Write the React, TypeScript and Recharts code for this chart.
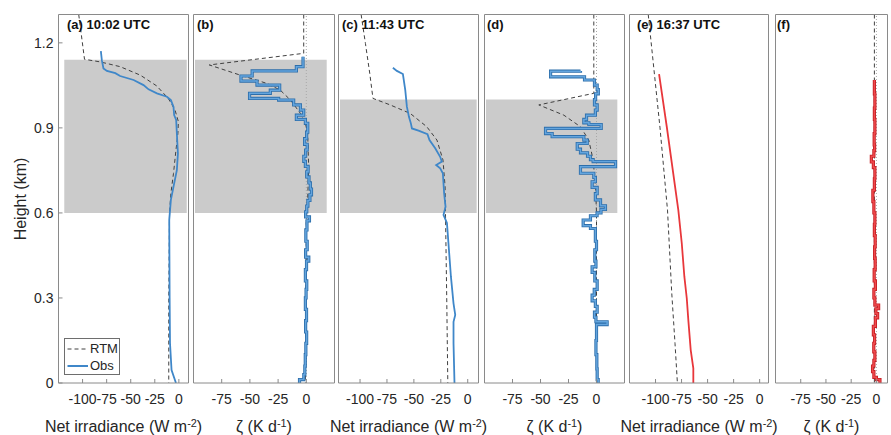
import React from 'react';
import { LineChart, Line, XAxis, YAxis, ReferenceArea, ReferenceLine, Legend } from 'recharts';

const W = 891;
const H = 435;
const PLOT_TOP = 14.5;
const PLOT_BOTTOM = 383;
const FONT = '"Liberation Sans", Arial, Helvetica, sans-serif';
const FRAME = '#8a8a8a';
const TEXT = '#262626';
const CLOUD = '#cbcbcb';
const RTM_COLOR = '#404040';

// axes
const heightTicks = [0, 0.3, 0.6, 0.9, 1.2];
const irrTicks = [-100, -75, -50, -25, 0];
const zetaTicks = [-75, -50, -25, 0];

// cloud layers [base, top] in km
const cloudMorning = [0.6, 1.14];
const cloudNoon = [0.6, 1.0];

type Pt = { h: number; v: number };

// (a) 10:02 UTC net irradiance
const rtmA: Pt[] = [
  { h: 1.3, v: -104 }, { h: 1.142, v: -98 }, { h: 1.133, v: -82 }, { h: 1.116, v: -61 },
  { h: 1.086, v: -40 }, { h: 1.048, v: -23 }, { h: 1.004, v: -11 }, { h: 0.963, v: -4 },
  { h: 0.922, v: -0.5 }, { h: 0.881, v: -1 }, { h: 0.822, v: -3 }, { h: 0.739, v: -5.6 },
  { h: 0.669, v: -8.3 }, { h: 0.6, v: -9.7 }, { h: 0.3, v: -10.5 }, { h: 0, v: -10.5 },
];
const obsA: Pt[] = [
  { h: 1.171, v: -81 }, { h: 1.139, v: -80 }, { h: 1.11, v: -78.3 }, { h: 1.101, v: -74.7 },
  { h: 1.093, v: -66 }, { h: 1.083, v: -61 }, { h: 1.069, v: -47 }, { h: 1.051, v: -36.7 },
  { h: 1.036, v: -31.5 }, { h: 1.022, v: -22.8 }, { h: 1.01, v: -12.4 }, { h: 0.998, v: -8.3 },
  { h: 0.975, v: -5.6 }, { h: 0.945, v: -4.9 }, { h: 0.928, v: -2.8 }, { h: 0.881, v: -2.1 },
  { h: 0.81, v: -1 }, { h: 0.751, v: -2.1 }, { h: 0.692, v: -5.6 }, { h: 0.646, v: -8.3 },
  { h: 0.575, v: -10 }, { h: 0.3, v: -9.6 }, { h: 0.14, v: -9.2 }, { h: 0.046, v: -7.6 },
  { h: 0.01, v: -4 }, { h: 0, v: -3 },
];

// (b) heating rate
const rtmB: Pt[] = [
  { h: 1.3, v: -2.3 }, { h: 1.163, v: -2.3 }, { h: 1.122, v: -86 }, { h: 1.086, v: -58.5 },
  { h: 1.057, v: -35 }, { h: 1.033, v: -23 }, { h: 0.998, v: -14 }, { h: 0.951, v: -5.2 },
  { h: 0.916, v: -0.8 }, { h: 0.881, v: 1.2 }, { h: 0.763, v: 2.1 }, { h: 0.646, v: 1.2 },
  { h: 0.575, v: 0 }, { h: 0.3, v: -0.3 }, { h: 0, v: -0.8 },
];
const obsB: Pt[] = [
  { h: 1.151, v: -2.9 }, { h: 1.116, v: -8.8 }, { h: 1.101, v: -48 }, { h: 1.083, v: -57.9 },
  { h: 1.065, v: -43.7 }, { h: 1.051, v: -23.6 }, { h: 1.033, v: -31.9 }, { h: 1.022, v: -50.3 },
  { h: 1.004, v: -24.5 }, { h: 0.998, v: -11.2 }, { h: 0.981, v: -5.2 }, { h: 0.963, v: -2.3 },
  { h: 0.945, v: -8.8 }, { h: 0.93, v: -0.8 }, { h: 0.916, v: 1.3 }, { h: 0.885, v: 0.3 },
  { h: 0.862, v: -1.5 }, { h: 0.842, v: 0.8 }, { h: 0.822, v: -0.6 }, { h: 0.8, v: -2.2 },
  { h: 0.782, v: -0.8 }, { h: 0.764, v: 1.6 }, { h: 0.745, v: 0.4 }, { h: 0.727, v: 2.4 },
  { h: 0.706, v: 3.6 }, { h: 0.684, v: 4.6 }, { h: 0.664, v: 3.2 }, { h: 0.644, v: 1.4 },
  { h: 0.624, v: 0.4 }, { h: 0.604, v: -0.6 }, { h: 0.586, v: 2.8 }, { h: 0.572, v: 0.6 },
  { h: 0.54, v: -0.4 }, { h: 0.5, v: 0.8 }, { h: 0.47, v: -0.6 }, { h: 0.444, v: 2.2 },
  { h: 0.43, v: 0.2 }, { h: 0.4, v: -0.8 }, { h: 0.36, v: 0.4 }, { h: 0.33, v: -0.2 },
  { h: 0.3, v: -0.8 }, { h: 0.26, v: 0.2 }, { h: 0.22, v: -0.6 }, { h: 0.18, v: 0.3 },
  { h: 0.14, v: -0.4 }, { h: 0.1, v: -0.9 }, { h: 0.06, v: -1.3 }, { h: 0.03, v: -2.2 },
  { h: 0.012, v: -6 }, { h: 0, v: -6 },
];

// (c) 11:43 UTC net irradiance
const rtmC: Pt[] = [
  { h: 1.3, v: -99 }, { h: 1.198, v: -95 }, { h: 1.093, v: -91 }, { h: 1.004, v: -88 },
  { h: 0.981, v: -72 }, { h: 0.951, v: -53.4 }, { h: 0.904, v: -38 }, { h: 0.857, v: -28.6 },
  { h: 0.787, v: -23 }, { h: 0.692, v: -21 }, { h: 0.586, v: -20.6 }, { h: 0.3, v: -19.5 },
  { h: 0, v: -18.5 },
];
const obsC: Pt[] = [
  { h: 1.112, v: -69.5 }, { h: 1.101, v: -65.8 }, { h: 1.09, v: -60.2 }, { h: 1.033, v: -58 },
  { h: 0.975, v: -56.5 }, { h: 0.939, v: -54.6 }, { h: 0.916, v: -52.8 }, { h: 0.898, v: -51.8 },
  { h: 0.89, v: -45.7 }, { h: 0.878, v: -37.4 }, { h: 0.857, v: -35.5 }, { h: 0.828, v: -30.2 },
  { h: 0.798, v: -25.6 }, { h: 0.781, v: -24 }, { h: 0.769, v: -29.3 }, { h: 0.757, v: -25.6 },
  { h: 0.74, v: -23.1 }, { h: 0.669, v: -21.9 }, { h: 0.622, v: -20.6 }, { h: 0.593, v: -22.5 },
  { h: 0.565, v: -19.3 }, { h: 0.493, v: -17.9 }, { h: 0.375, v: -15.6 }, { h: 0.281, v: -13.2 },
  { h: 0.24, v: -11.6 }, { h: 0.216, v: -13.2 }, { h: 0.14, v: -13.2 }, { h: 0, v: -12.3 },
];

// (d) heating rate
const rtmD: Pt[] = [
  { h: 1.3, v: -2.4 }, { h: 1.022, v: -2.4 }, { h: 0.981, v: -51.5 }, { h: 0.945, v: -29.2 },
  { h: 0.904, v: -14.3 }, { h: 0.857, v: -6.9 }, { h: 0.787, v: -3 }, { h: 0.692, v: -0.9 },
  { h: 0.6, v: 0 }, { h: 0, v: 0 },
];
const obsD: Pt[] = [
  { h: 1.101, v: -14.3 }, { h: 1.1, v: -41 }, { h: 1.08, v: -10.7 }, { h: 1.069, v: -1.8 },
  { h: 1.051, v: 0.6 }, { h: 1.035, v: 1.6 }, { h: 1.02, v: -0.8 }, { h: 1.0, v: -1.8 },
  { h: 0.981, v: 0.6 }, { h: 0.963, v: -1 }, { h: 0.945, v: -8.9 }, { h: 0.93, v: -11.3 },
  { h: 0.918, v: -6.8 }, { h: 0.912, v: 4.2 }, { h: 0.898, v: -45.5 }, { h: 0.88, v: -39.6 },
  { h: 0.869, v: -11.3 }, { h: 0.857, v: -8.3 }, { h: 0.845, v: -17.2 }, { h: 0.825, v: -14.3 },
  { h: 0.812, v: -8 }, { h: 0.8, v: -5.4 }, { h: 0.788, v: -3 }, { h: 0.781, v: 17 },
  { h: 0.763, v: -14.3 }, { h: 0.74, v: -2.4 }, { h: 0.725, v: -1 }, { h: 0.71, v: -3.9 },
  { h: 0.69, v: 0.6 }, { h: 0.668, v: -1 }, { h: 0.646, v: 3.6 }, { h: 0.625, v: 8 },
  { h: 0.612, v: 4 }, { h: 0.6, v: 0.5 }, { h: 0.59, v: -5.4 }, { h: 0.575, v: -11.9 },
  { h: 0.555, v: -5.4 }, { h: 0.545, v: -1 }, { h: 0.5, v: 0 }, { h: 0.47, v: -1.5 },
  { h: 0.43, v: -0.5 }, { h: 0.41, v: -3.9 }, { h: 0.39, v: -1.5 }, { h: 0.36, v: 0.6 },
  { h: 0.33, v: -2 }, { h: 0.31, v: -3.9 }, { h: 0.29, v: -1 }, { h: 0.27, v: 0.6 },
  { h: 0.25, v: -1.8 }, { h: 0.232, v: -0.5 }, { h: 0.216, v: 9.5 }, { h: 0.206, v: 0 },
  { h: 0.15, v: -0.5 }, { h: 0.1, v: 0.3 }, { h: 0.05, v: 0.6 }, { h: 0.012, v: 1.5 },
  { h: 0, v: 1.5 },
];

// (e) 16:37 UTC net irradiance
const rtmE: Pt[] = [
  { h: 1.3, v: -107 }, { h: 0.9, v: -95.7 }, { h: 0.61, v: -88.5 }, { h: 0.316, v: -84.4 },
  { h: 0.14, v: -81.3 }, { h: 0, v: -79 },
];
const obsE: Pt[] = [
  { h: 1.09, v: -96.6 }, { h: 0.904, v: -89.2 }, { h: 0.61, v: -78.1 }, { h: 0.493, v: -74.8 },
  { h: 0.375, v: -72.3 }, { h: 0.299, v: -70 }, { h: 0.222, v: -68.5 }, { h: 0.116, v: -66.2 },
  { h: 0.052, v: -63.7 }, { h: 0, v: -63.7 },
];

// (f) heating rate
const rtmF: Pt[] = [{ h: 1.3, v: -2 }, { h: 0, v: -2 }];
const obsF: Pt[] = [
  { h: 1.069, v: -2 }, { h: 1.02, v: -1.5 }, { h: 0.97, v: -2 }, { h: 0.93, v: -1.5 },
  { h: 0.88, v: -2.2 }, { h: 0.84, v: -1.8 }, { h: 0.82, v: -2.5 }, { h: 0.8, v: -5 },
  { h: 0.78, v: -3 }, { h: 0.76, v: -1.5 }, { h: 0.72, v: -2 }, { h: 0.68, v: -3.5 },
  { h: 0.64, v: -2.5 }, { h: 0.6, v: -1.5 }, { h: 0.56, v: -2 }, { h: 0.52, v: -1.2 },
  { h: 0.48, v: -1.8 }, { h: 0.44, v: -1.2 }, { h: 0.4, v: -2.2 }, { h: 0.36, v: -1 },
  { h: 0.33, v: -2.5 }, { h: 0.3, v: -1.5 }, { h: 0.275, v: 2.2 }, { h: 0.262, v: -0.5 },
  { h: 0.245, v: 1.2 }, { h: 0.23, v: -1 }, { h: 0.2, v: -3 }, { h: 0.17, v: -1.8 },
  { h: 0.14, v: -2.6 }, { h: 0.11, v: -1.5 }, { h: 0.08, v: -2.5 }, { h: 0.06, v: -3.8 },
  { h: 0.04, v: -2.5 }, { h: 0.02, v: 0 }, { h: 0.012, v: 3.5 }, { h: 0, v: 3.5 },
];

const COLORS = {
  blue: { line: '#3f87c9', outer: '#2d6eaa', inner: '#64a5de' },
  red: { line: '#e8373b', outer: '#c41f24', inner: '#f04a4d' },
};

type PanelDef = {
  id: string;
  title: string;
  zeta: boolean;
  left: number;
  right: number;
  domain: [number, number];
  ticks: number[];
  rtm: Pt[];
  obs: Pt[];
  step: boolean;
  palette: 'blue' | 'red';
  cloud?: number[];
  cloudX?: [number, number];
  zero: boolean;
  first: boolean;
  titleX: number;
};

const panels: PanelDef[] = [
  { id: 'a', title: '(a) 10:02 UTC', zeta: false, left: 58.5, right: 188.5, domain: [-125, 10], ticks: irrTicks,
    rtm: rtmA, obs: obsA, step: false, palette: 'blue', cloud: cloudMorning, cloudX: [-119, 8.2], zero: false, first: true, titleX: 67 },
  { id: 'b', title: '(b)', zeta: true, left: 193.5, right: 334.5, domain: [-100, 25], ticks: zetaTicks,
    rtm: rtmB, obs: obsB, step: true, palette: 'blue', cloud: cloudMorning, cloudX: [-98.7, 18.1], zero: true, first: false, titleX: 197 },
  { id: 'c', title: '(c) 11:43 UTC', zeta: false, left: 338.5, right: 478.5, domain: [-120, 10], ticks: irrTicks,
    rtm: rtmC, obs: obsC, step: false, palette: 'blue', cloud: cloudNoon, cloudX: [-118.6, 8.3], zero: false, first: false, titleX: 342 },
  { id: 'd', title: '(d)', zeta: true, left: 484.5, right: 624.5, domain: [-100, 25], ticks: zetaTicks,
    rtm: rtmD, obs: obsD, step: true, palette: 'blue', cloud: cloudNoon, cloudX: [-98.7, 18.6], zero: true, first: false, titleX: 487 },
  { id: 'e', title: '(e) 16:37 UTC', zeta: false, left: 629.5, right: 768.5, domain: [-125, 8.5], ticks: irrTicks,
    rtm: rtmE, obs: obsE, step: false, palette: 'red', zero: false, first: false, titleX: 637 },
  { id: 'f', title: '(f)', zeta: true, left: 775.5, right: 887.5, domain: [-100, 11], ticks: zetaTicks,
    rtm: rtmF, obs: obsF, step: true, palette: 'red', zero: true, first: false, titleX: 777 },
];

function LegendBox(props: any) {
  const items = (props.payload || [])
    .filter((e: any) => e.type !== 'none')
    .sort((a: any, b: any) => (a.value === 'RTM' ? -1 : b.value === 'RTM' ? 1 : 0));
  return (
    <div style={{ width: 54, height: 33, paddingTop: 2, border: '1px solid #6e6e6e', background: '#fff',
      fontFamily: FONT, fontSize: 13, color: TEXT }}>
      {items.map((e: any) => {
        const dashed = e.payload?.strokeDasharray || (e.value === 'RTM' ? '4 3' : undefined);
        return (
          <div key={e.value} style={{ display: 'flex', alignItems: 'center', height: 16.5 }}>
            <svg width={24} height={10} style={{ display: 'block' }}>
              <line x1={2.5} x2={23} y1={5} y2={5} stroke={e.color} strokeWidth={dashed ? 1 : 2} strokeDasharray={dashed} />
            </svg>
            <span style={{ marginLeft: 1, lineHeight: '14px' }}>{e.value}</span>
          </div>
        );
      })}
    </div>
  );
}

function Panel({ p }: { p: PanelDef }) {
  const axisTick = { fill: TEXT, fontSize: 14, fontFamily: FONT };
  const col = COLORS[p.palette];
  return (
    <div style={{ position: 'absolute', left: 0, top: 0 }}>
      <LineChart
        width={W}
        height={H}
        layout="vertical"
        margin={{ top: PLOT_TOP - 10, bottom: H - PLOT_BOTTOM - 30, left: p.left - 10, right: W - p.right - 10 }}
      >
        <XAxis xAxisId="x" type="number" domain={p.domain} ticks={p.ticks} allowDataOverflow interval={0}
          height={30} stroke={FRAME} tickSize={-4} tickMargin={15} tick={axisTick} />
        <XAxis xAxisId="top" orientation="top" type="number" domain={p.domain} ticks={p.ticks} allowDataOverflow
          interval={0} height={10} stroke={FRAME} tickSize={-4} tick={false} />
        <YAxis yAxisId="y" type="number" dataKey="h" domain={[0, 1.3]} ticks={heightTicks} allowDataOverflow reversed
          interval={0} width={10} stroke={FRAME} tickSize={-4} tickMargin={9} tick={p.first ? axisTick : false} />
        <YAxis yAxisId="right" orientation="right" type="number" domain={[0, 1.3]} ticks={heightTicks} reversed
          allowDataOverflow interval={0} width={10} stroke={FRAME} tickSize={-4} tick={false} />
        {p.cloud && p.cloudX && (
          <ReferenceArea xAxisId="x" yAxisId="y" x1={p.cloudX[0]} x2={p.cloudX[1]} y1={p.cloud[0]} y2={p.cloud[1]}
            fill={CLOUD} fillOpacity={1} stroke="none" />
        )}
        {p.zero && (
          <ReferenceLine xAxisId="x" yAxisId="y" x={0} stroke="#a8a8a8" strokeDasharray="1 2" />
        )}
        <Line xAxisId="x" yAxisId="y" data={p.rtm} dataKey="v" name="RTM" type="linear" stroke={RTM_COLOR}
          strokeWidth={1} strokeDasharray="4 3" dot={false} isAnimationActive={false} />
        {p.step && (
          <Line xAxisId="x" yAxisId="y" data={p.obs} dataKey="v" name="Obs-edge" type="stepBefore" stroke={col.outer}
            strokeWidth={3.2} dot={false} legendType="none" isAnimationActive={false} />
        )}
        <Line xAxisId="x" yAxisId="y" data={p.obs} dataKey="v" name="Obs" type={p.step ? 'stepBefore' : 'linear'}
          stroke={p.step ? col.inner : col.line} strokeWidth={p.step ? 1.5 : 1.8} dot={false} isAnimationActive={false} />
        {p.first && (
          <Legend layout="vertical" align="center" verticalAlign="middle" content={LegendBox}
            wrapperStyle={{ left: 64, top: 338, width: 56, height: 37 }} />
        )}
      </LineChart>
    </div>
  );
}

const textBase: React.CSSProperties = { position: 'absolute', fontFamily: FONT, color: TEXT, whiteSpace: 'nowrap' };
const sup: React.CSSProperties = { fontSize: '0.68em', verticalAlign: '0.5em', lineHeight: 0 };

export default function App() {
  return (
    <div style={{ position: 'absolute', left: 0, top: 0, width: W, height: H, background: '#fff', overflow: 'hidden' }}>
      {panels.map((p) => (
        <Panel key={p.id} p={p} />
      ))}
      {panels.map((p) => (
        <div key={'t' + p.id} style={{ ...textBase, left: p.titleX, top: 17.5, fontSize: 13, fontWeight: 700,
          lineHeight: '13px', color: '#111' }}>
          {p.title}
        </div>
      ))}
      {panels.map((p) => (
        <div key={'x' + p.id} style={{ ...textBase, left: (p.left + p.right) / 2 - 100, width: 200, top: 419,
          fontSize: 16, lineHeight: '16px', textAlign: 'center' }}>
          {p.zeta ? (
            <span>ζ (K d<span style={sup}>-1</span>)</span>
          ) : (
            <span>Net irradiance (W m<span style={sup}>-2</span>)</span>
          )}
        </div>
      ))}
      <div style={{ ...textBase, left: 21 - 60, top: (PLOT_TOP + PLOT_BOTTOM) / 2 - 10, width: 120, height: 20,
        fontSize: 16, lineHeight: '20px', textAlign: 'center', transform: 'rotate(-90deg)' }}>
        Height (km)
      </div>
    </div>
  );
}
